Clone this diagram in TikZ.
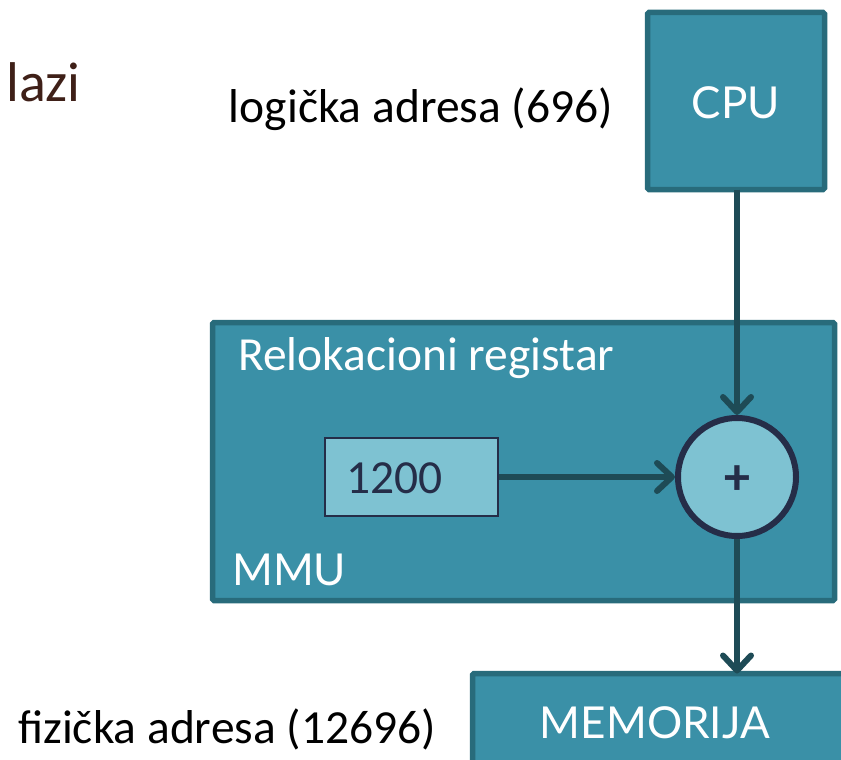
\documentclass[tikz,border=0pt]{standalone}
\usepackage{fontspec}
\setmainfont{Carlito}
\newfontfamily\gill{Lato}
\usetikzlibrary{arrows.meta}

\definecolor{boxfill}{HTML}{3A90A7}
\definecolor{boxline}{HTML}{286B7B}
\definecolor{wire}{HTML}{1E4B56}
\definecolor{lightfill}{HTML}{7EC2D2}
\definecolor{navy}{HTML}{252D48}
\definecolor{brown}{HTML}{3F2018}

\tikzset{
  unit/.style={draw=boxline, fill=boxfill, line width=5.5pt, rounded corners=1.5pt,
               inner sep=0pt, outer sep=0pt},
  regbox/.style={draw=navy, fill=lightfill, line width=1.8pt, inner sep=0pt},
  adder/.style={circle, draw=navy, fill=lightfill, line width=6pt, inner sep=0pt,
                minimum size=118pt},
  wirearrow/.style={draw=wire, line width=6pt,
                    -{Straight Barb[length=15pt, width=28pt, round]}},
  plain/.style={font=\fontsize{47.5}{52}\selectfont, inner sep=0pt},
  unittext/.style={font=\gill\fontsize{44}{48}\selectfont, text=white, inner sep=0pt},
}

\begin{document}
\begin{tikzpicture}[x=1pt, y=-1pt]
  \useasboundingbox (0,0) rectangle (841,760);
  \clip (0,0) rectangle (841,760);

  % heading fragment
  \node[font=\fontsize{56}{60}\selectfont, inner sep=0pt, text=brown, anchor=base west]
    (heading) at (6,102) {lazi};

  % CPU
  \node[unit, minimum width=177pt, minimum height=177pt] (cpu) at (736,101) {};
  \node[unittext, anchor=base] (cputext) at (736,118) {CPU};
  \node[plain, anchor=base east] (logical) at (613,122) {logička adresa (696)};

  % MMU with relocation register and adder
  \node[unit, minimum width=622pt, minimum height=278pt] (mmu) at (523.5,461.5) {};
  \node[plain, text=white, anchor=base west] (reltitle) at (238,370) {Relokacioni registar};
  \node[unittext, anchor=base west] (mmutext) at (232,585) {MMU};
  \node[regbox, minimum width=173pt, minimum height=78pt] (reg) at (411.5,477) {};
  \node[plain, text=navy, anchor=base west] (regval) at (346,493) {1200};
  \node[adder] (sum) at (737,477) {};
  \node[text=navy, inner sep=0pt, font=\fontsize{52}{52}\selectfont\bfseries]
    (plus) at (737,480) {+};

  % memory
  \node[unit, minimum width=377.5pt, minimum height=126.5pt] (mem) at (661.25,736.75) {};
  \node[unittext, anchor=base] (memtext) at (655,738) {MEMORIJA};
  \node[plain, anchor=base west] (physical) at (18,743) {fizička adresa (12696)};

  % data paths
  \draw[wirearrow] (cpu.south -| sum.north) -- (sum.north);
  \draw[wirearrow] (reg.east) -- (sum.west);
  \draw[wirearrow] (sum.south) -- (sum.south |- mem.north);
\end{tikzpicture}
\end{document}
